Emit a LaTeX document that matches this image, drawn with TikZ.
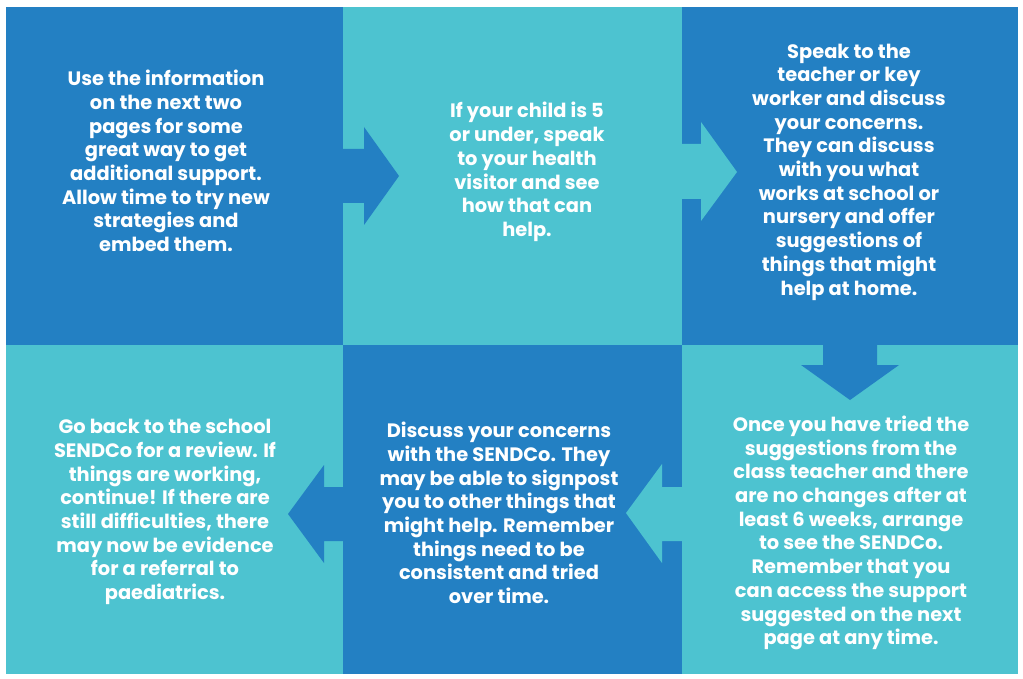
\documentclass[tikz,border=0pt]{standalone}
\usepackage{fontspec}
\setmainfont{Poppins}
\definecolor{darkblue}{RGB}{35,128,195}
\definecolor{lightteal}{RGB}{77,195,208}
\tikzset{
	steptext/.style={text=white, align=center, inner sep=0pt,
		font=\fontsize{19.4}{23.7}\selectfont\bfseries},
}

\begin{document}
\begin{tikzpicture}[x=1pt,y=-1pt]
	\fill[white] (0,0) rectangle (1023,679);
	\useasboundingbox (0,0) rectangle (1023,679);
	% the six boxes
	\fill[darkblue] (6,7) rectangle (343,345);
	\fill[lightteal] (343,7) rectangle (682,345);
	\fill[darkblue] (682,7) rectangle (1018,345);
	\fill[lightteal] (6,345) rectangle (343,674);
	\fill[darkblue] (343,345) rectangle (682,674);
	\fill[lightteal] (682,345) rectangle (1018,674);
	% arrows
	\fill[darkblue] (340,149) -- (364,149) -- (364,127) -- (399,176) -- (364,225) -- (364,203) -- (340,203) -- cycle;
	\fill[lightteal] (679,144) -- (701,144) -- (701,122) -- (737,172) -- (701,221) -- (701,199) -- (679,199) -- cycle;
	\fill[darkblue] (823,342) -- (823,365) -- (801,365) -- (850,400) -- (899,365) -- (877,365) -- (877,342) -- cycle;
	\fill[lightteal] (685,487) -- (662,487) -- (662,464) -- (626,513) -- (662,563) -- (662,541) -- (685,541) -- cycle;
	\fill[darkblue] (346,487) -- (324,487) -- (324,465) -- (288,514) -- (324,563) -- (324,541) -- (346,541) -- cycle;
	% texts
	\node[steptext] (s1) at (166,161) {Use the information\\on the next two\\pages for some\\great way to get\\additional support.\\Allow time to try new\\strategies and\\embed them.};
	\node[steptext] (s2) at (527,172) {If your child is 5\\or under, speak\\to your health\\visitor and see\\how that can\\help.};
	\node[steptext] (s3) at (849,172) {Speak to the\\teacher or key\\worker and discuss\\your concerns.\\They can discuss\\with you what\\works at school or\\nursery and offer\\suggestions of\\things that might\\help at home.};
	\node[steptext] (s4) at (851,533) {Once you have tried the\\suggestions from the\\class teacher and there\\are no changes after at\\least 6 weeks, arrange\\to see the SENDCo.\\Remember that you\\can access the support\\suggested on the next\\page at any time.};
	\node[steptext] (s5) at (499,513) {Discuss your concerns\\with the SENDCo. They\\may be able to signpost\\you to other things that\\might help. Remember\\things need to be\\consistent and tried\\over time.};
	\node[steptext] (s6) at (165,512) {Go back to the school\\SENDCo for a review. If\\things are working,\\continue! If there are\\still difficulties, there\\may now be evidence\\for a referral to\\paediatrics.};
\end{tikzpicture}
\end{document}
